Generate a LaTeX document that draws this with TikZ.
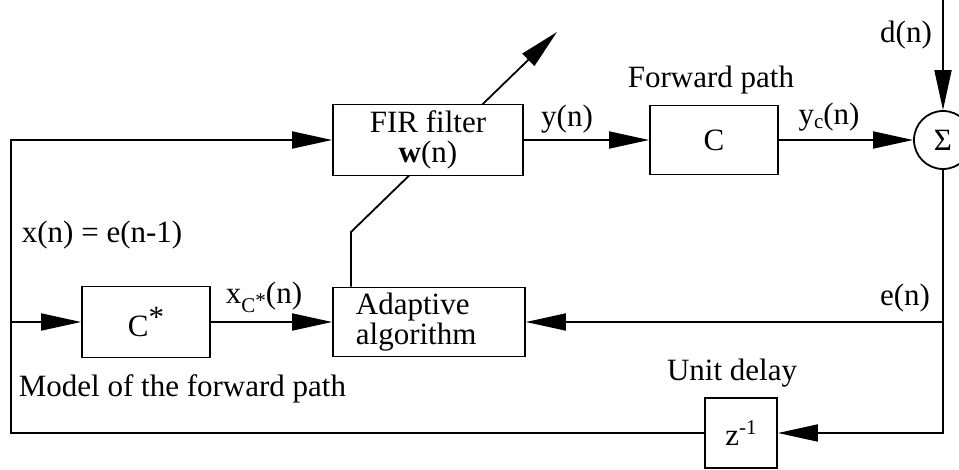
\documentclass[tikz,border=0pt]{standalone}
\usepackage{fontspec}
\setmainfont{Liberation Serif}
\usetikzlibrary{arrows.meta,backgrounds}
\newcommand{\mylow}[2]{\raisebox{-#1}{\fontsize{21}{21}\selectfont #2}}
\newcommand{\myhigh}[1]{\raisebox{11pt}{\fontsize{21}{21}\selectfont #1}}
\begin{document}
\begin{tikzpicture}[x=1pt,y=-1pt,line width=1.8pt,
  box/.style={draw,fill=white,line width=1.8pt,inner sep=0pt,font=\fontsize{31}{30}\selectfont},
  txt/.style={inner sep=0pt,font=\fontsize{31}{30}\selectfont},
  arr/.style={line width=1.8pt,-{Triangle[length=40pt,width=17pt]}}]
\clip (0,0) rectangle (959,470);
% blocks
\node[box,minimum width=190pt,minimum height=71pt,align=center] (fir) at (428,140) {FIR filter\\\textbf{w}(n)};
\node[box,minimum width=128pt,minimum height=69pt] (cbox) at (714,140) {C};
\node[box,circle,minimum size=58pt] (sum) at (943,140) {Σ};
\node[box,minimum width=192pt,minimum height=69pt] (adapt) at (429,322) {};
\node[txt,align=left,anchor=west] (adtxt) at (355,322) {Adaptive\\algorithm};
\node[box,minimum width=128pt,minimum height=71pt] (cstar) at (146,322) {C\raisebox{9pt}{*}};
\node[box,minimum width=72pt,minimum height=70pt] (zbox) at (741,433) {z\myhigh{-1}};
% labels
\node[txt] (ly) at (567,119) {y(n)};
\node[txt] (lfwd) at (711,80) {Forward path};
\node[txt] (lyc) at (829,117) {y\mylow{4pt}{c}(n)};
\node[txt] (ld) at (906,35) {d(n)};
\node[txt,anchor=west] (lx) at (21,235) {x(n) = e(n-1)};
\node[txt] (lxc) at (264,297) {x\mylow{9pt}{C\raisebox{5pt}{*}}(n)};
\node[txt] (le) at (905,298) {e(n)};
\node[txt,anchor=west] (lmodel) at (18,389) {Model of the forward path};
\node[txt] (lunit) at (732,373) {Unit delay};
% coordinates
\coordinate (tl) at (11,140);
\coordinate (bl) at (11,433);
\coordinate (lj) at (11,322);
\coordinate (br) at (943,433);
\coordinate (ej) at (943,322);
\coordinate (din) at (943,0);
\coordinate (bend) at (351,232);
\coordinate (tip) at (557,32);
% connectors
\draw[arr] (zbox.west) -- (bl) -- (tl) -- (fir.west);
\draw[arr] (fir.east) -- (cbox.west);
\draw[arr] (cbox.east) -- (sum.west);
\draw[arr] (din) -- (sum.north);
\draw[arr] (sum.south) -- (br) -- (zbox.east);
\draw[arr] (ej) -- (adapt.east);
\draw[arr] (lj) -- (cstar.west);
\draw[arr] (cstar.east) -- (adapt.west);
\begin{pgfonlayer}{background}
\draw[arr] (bend |- adapt.north) -- (bend) -- (tip);
\end{pgfonlayer}
\end{tikzpicture}
\end{document}
